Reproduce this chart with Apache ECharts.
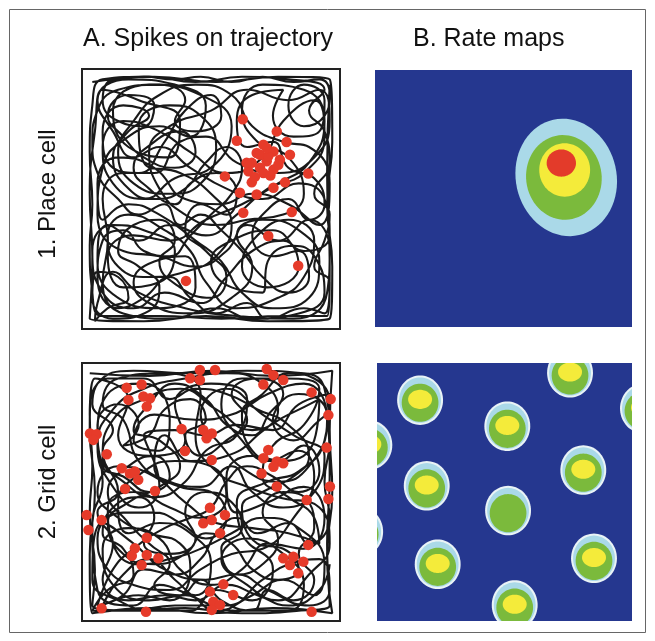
<!DOCTYPE html>
<html><head><meta charset="utf-8">
<script src="https://cdn.jsdelivr.net/npm/echarts@6/dist/echarts.min.js"></script>
<style>html,body{margin:0;padding:0;background:#fff}#c{width:655px;height:641px}</style>
</head><body><div id="c"></div>
<script>
const columnTitles = ['A. Spikes on trajectory', 'B. Rate maps'];
const rowLabels = ['1. Place cell', '2. Grid cell'];

// arena coordinates 0..100, y measured from the top wall
const placeTrajectory = [
[4,5],[28,3],[52,5],[76,3],[96,4],[97,28],[95,52],[97,76],[96,96],[72,97],[48,95],[24,97],[3,96],[4,72],[3,48],[5,24],[8,8],
[22,12],[38,20],[34,34],[18,30],[12,16],[26,6],[46,10],[58,22],[50,38],[36,42],[24,50],[12,44],[8,30],[16,20],[30,24],[42,32],[56,40],[70,34],[78,20],[90,12],[94,26],[86,40],[72,46],[60,56],[48,64],[34,60],[22,66],[10,60],[6,74],[14,88],[30,92],[44,84],[40,72],[28,74],[20,82],[26,90],[42,94],[58,88],[66,76],[60,64],[70,58],[84,62],[92,74],[88,88],[74,92],[62,86],[54,74],[44,66],[30,56],[18,52],[8,58],[6,44],[14,34],[28,38],[40,50],[54,52],[66,48],[80,52],[92,60],[96,44],[88,30],[78,28],[66,22],[58,10],[44,6],[30,10],[20,20],[14,32],[20,44],[34,48],[46,44],[52,30],[46,18],[34,14],[22,22],[24,36],[38,40],[50,48],[58,60],[52,72],[40,78],[26,80],[14,76],[10,64],[18,56],[32,62],[42,70],[48,82],[60,92],[76,88],[86,80],[90,66],[80,58],[68,64],[62,76],[72,84],[84,76],[78,66],[66,70],[56,80],[46,90],[32,86],[20,92],[8,86],[4,70],[12,60],[24,62],[36,70],[30,82],[16,84],[10,72],[20,64],[34,66],[48,58],[62,52],[76,44],[88,36],[94,20],[86,8],[70,6],[62,16],[68,28],[80,34],[86,48],[78,56],[64,58],[52,60],[40,56],[30,46],[26,32],[34,22],[50,16],[64,8],[80,12],[92,8],[96,20],[90,34],[76,40],[60,36],[48,26],[38,28],[28,40],[16,40],[8,50],[10,66],[8,82],[16,94],[34,96],[52,92],[66,96],[84,94],[94,86],[90,72],[82,68],[72,74],[70,86],[58,84],[50,74],[58,66],[74,62],[86,70],[96,64],[94,50],[84,44],[70,50],[56,46],[42,38],[30,30],[20,34],[12,24],[6,12],[18,4],[36,6],[48,14],[42,26],[30,22],[18,26],[8,38],[6,56],[16,70],[30,72],[44,76],[56,70],[64,60],[76,66],[88,58],[96,70],[95,86],[82,96],[60,95],[40,92],[22,86],[12,78],[6,90],[5,97],
[10,92],[18,88],[14,80],[6,78],[4,88],[12,96],[26,93],[30,84],[22,76],[14,70],[20,60],[30,58],[36,66],[30,74],[38,84],[50,88],[56,80],[48,70],[40,62],[46,52],[56,56],[60,48],[52,40],[42,44],[36,52],[26,46],[20,38],[28,28],[38,24],[44,32],[36,38],[24,34],[16,26],[10,18],[18,10],[28,14],[24,22],[14,20],[8,12],[12,4],[24,3],[36,4],[46,3],[58,5],[70,3],[82,5],[92,4],[96,10],[94,18],[86,22],[80,14],[86,6],[94,12],[92,24],[82,26],[74,18],[78,8],[66,10],[60,20],[64,30],[74,28],[80,38],[90,42],[94,52],[88,58],[80,50],[72,54],[66,64],[74,72],[84,70],[88,80],[80,86],[70,80],[62,70],[54,62],[46,56],[38,60],[32,52],[22,56],[14,50],[6,40],[4,28],[6,16],[14,8],[30,6],[40,12],[36,20],[44,24],[54,18],[50,10],[40,16],[32,28],[22,40],[12,38],[8,24],[16,14],[26,18],[18,24],[12,34],[18,46],[28,50],[40,46],[48,36],[56,30],[62,38],[58,48],[50,56],[42,64],[34,72],[24,70],[16,62],[8,66],[6,80],[14,92],[24,88],[34,80],[42,88],[52,94],[64,90],[72,96],[86,92],[94,94],[96,82],[90,76],[94,66],[96,56],[90,48],[96,36],[94,24],[88,16],[94,8],[80,4],[62,3],[44,5],[26,3],[8,4],[4,14],[3,32],[4,52],[3,68],[4,86],[8,95],[30,95],[54,96],[78,95],[95,95],[96,74],[95,40],[96,6]
];
const placeSpikes = [
[62.3,19.3],[75.5,24.0],[60.0,27.6],[79.3,28.1],[70.3,29.1],[67.7,32.3],[74.2,31.7],[80.6,33.0],[65.8,36.1],[71.6,35.5],[76.7,34.9],[69.0,38.0],[64.5,39.3],[74.2,38.7],[87.7,40.2],[55.4,41.3],[65.8,43.6],[74.2,45.7],[78.7,43.6],[61.2,47.6],[67.7,48.3],[62.5,55.3],[81.3,55.0],[72.2,64.2],[83.8,75.7],[40.3,81.5],[69.0,33.0],[72.2,33.6],[76.1,36.8],[70.3,40.0],[63.8,36.1],[71.6,30.4],[67.0,41.5],[73.0,41.0]
];
const gridTrajectory = [
[3,4],[26,5],[50,3],[74,5],[97,3],[96,26],[97,50],[95,74],[97,97],[74,95],[50,97],[26,95],[4,97],[3,74],[5,50],[3,26],[5,6],
[18,14],[14,28],[26,36],[40,30],[36,16],[50,8],[64,14],[60,28],[48,34],[40,46],[28,52],[16,46],[8,36],[12,22],[24,14],[38,10],[52,18],[66,26],[80,20],[92,14],[90,30],[78,38],[66,36],[56,44],[60,58],[72,54],[86,48],[94,60],[86,72],[72,70],[62,80],[50,86],[38,80],[30,68],[18,64],[8,72],[12,86],[26,92],[40,90],[52,96],[66,90],[78,84],[90,90],[94,78],[84,64],[70,60],[58,66],[46,72],[34,76],[22,78],[12,70],[10,56],[20,50],[34,56],[46,60],[56,52],[50,40],[36,38],[24,42],[14,54],[18,66],[30,62],[42,66],[50,78],[44,90],[30,86],[20,94],[6,88],[4,62],[8,46],[6,30],[10,12],[24,8],[34,22],[30,34],[20,30],[28,20],[44,22],[58,20],[72,12],[86,8],[95,22],[88,40],[76,46],[64,42],[54,32],[46,20],[56,10],[70,20],[82,28],[94,36],[90,50],[78,56],[66,50],[58,40],[46,48],[34,46],[22,38],[16,22],[8,16],[14,6],[32,4],[46,12],[44,28],[52,42],[64,48],[76,52],[92,56],[96,70],[88,82],[76,92],[64,86],[54,76],[64,68],[78,74],[86,86],[80,96],[62,96],[46,92],[36,84],[26,76],[16,82],[8,94],[22,90],[34,92],[42,80],[38,70],[26,66],[14,60],[6,50],[14,40],[28,44],[40,54],[52,62],[66,64],[80,66],[92,70],[90,60],[80,52],[70,44],[74,32],[86,24],[92,10],[78,6],[62,6],[54,16],[62,30],[72,38],[84,34],[90,44],[82,60],[70,72],[58,74],[46,80],[34,88],[20,86],[10,80],[6,68],[16,58],[28,58],[38,62],[48,68],[56,60],[50,50],[38,48],[28,40],[32,28],[42,38],[56,36],[68,28],[76,18],[70,8],[56,4],[40,6],[24,10],[12,18],[6,32],[12,48],[22,56],[30,48],[24,28],[36,26],[48,28],[60,24],[74,26],[84,16],[96,12],[94,30],[84,42],[72,46],[60,54],[62,66],[74,80],[66,92],[52,88],[42,96],[28,96],[14,92],[4,84],[8,62],[20,70],[32,80],[48,84],[60,82],[72,88],[88,94],[96,88],[92,76],[80,78],[70,84],[56,94],[36,94],[18,96],[4,96],
[10,88],[20,82],[16,72],[8,66],[12,56],[22,52],[28,60],[24,70],[34,74],[44,68],[40,58],[48,50],[58,54],[62,64],[54,72],[60,82],[70,78],[76,68],[70,58],[78,50],[88,54],[90,64],[84,74],[90,84],[82,92],[72,88],[66,96],[54,92],[46,84],[38,90],[28,86],[34,78],[26,70],[18,62],[10,50],[18,40],[28,36],[34,44],[26,50],[16,44],[8,40],[6,24],[14,16],[22,24],[16,32],[26,28],[32,18],[42,14],[48,22],[40,28],[46,36],[56,30],[64,22],[58,12],[68,6],[78,12],[74,22],[82,30],[90,24],[96,16],[90,6],[80,4],[70,12],[62,20],[66,34],[76,38],[86,32],[92,42],[84,50],[74,44],[64,40],[56,46],[50,56],[42,60],[32,64],[20,72],[12,80],[6,94],[16,90],[24,80],[36,82],[46,76],[52,66],[60,60],[68,66],[80,62],[88,70],[96,60],[94,46],[96,30],[94,10],[86,4],[64,3],[42,4],[20,3],[6,8],[3,20],[4,40],[3,58],[5,80],[4,94],[20,96],[40,95],[62,97],[84,96],[96,94],[95,70],[96,44],[95,20],[84,12],[74,18],[66,28],[56,24],[48,14],[36,8],[26,16],[20,26],[30,30],[38,40],[30,48],[18,54],[10,62],[16,74],[28,78],[40,74],[48,66],[58,70],[66,80],[76,84],[84,80],[78,72],[68,70],[62,56],[70,50],[82,44],[88,36],[80,24],[68,18],[56,12],[44,10],[34,14],[24,6],[10,6],[4,16],[12,26],[8,34],[14,50],[6,58],[12,70],[8,84],[18,92],[32,90],[44,92],[56,86],[68,90],[80,94],[92,88],[96,78]
];
const gridSpikes = [
[45.7,2.7],[51.6,2.7],[41.9,5.9],[45.7,6.6],[71.6,2.3],[74.2,4.7],[78.0,6.6],[70.3,8.3],[17.3,9.6],[23.1,8.3],[18.0,14.3],[23.8,13.0],[26.4,13.7],[25.1,16.9],[89.0,11.4],[96.4,14.0],[95.5,20.2],[3.1,27.3],[5.7,27.6],[4.4,29.8],[38.6,25.6],[47.0,26.0],[50.3,27.3],[48.3,29.2],[39.9,34.1],[50.3,37.6],[9.6,35.4],[72.2,33.7],[70.3,36.9],[75.5,38.2],[78.0,38.9],[74.2,40.2],[69.6,42.8],[94.8,32.8],[15.4,40.8],[18.6,42.8],[20.5,42.1],[21.8,45.3],[16.7,48.8],[28.3,49.6],[75.5,47.9],[96.1,47.9],[95.5,52.7],[87.1,53.1],[1.8,58.9],[7.6,60.9],[2.5,64.7],[49.6,56.1],[55.4,58.9],[47.0,62.1],[50.3,60.9],[53.5,66.0],[25.1,67.7],[20.5,71.8],[19.3,74.7],[25.1,74.4],[29.6,75.7],[23.1,78.3],[87.7,70.5],[78.0,75.7],[81.9,75.1],[85.8,77.0],[80.6,78.3],[83.8,81.5],[54.8,85.8],[49.6,88.6],[58.6,89.9],[50.9,92.5],[53.5,93.8],[50.3,95.7],[7.6,95.1],[24.8,96.4],[89.0,96.4]
];

// place-cell rate map contours: [cx, cy, rx, ry, level, tilt]
const placeRateContours = [
[74.4,41.8,19.6,23.0,1,-0.22],
[73.5,41.8,14.7,16.5,2,-0.12],
[73.8,38.9,9.9,10.4,3,0],
[72.5,36.2,5.7,5.3,4,0]
];
// grid-cell firing fields: [cx, cy, peak level]
const gridFieldCenters = [
[16.9,14.4,3],[51.1,24.5,3],[75.7,3.8,3],[104.3,17.6,3],[-3.0,31.8,4],[19.5,47.6,3],
[80.9,41.5,3],[51.4,57.2,2],[-6.6,65.4,3],[23.8,78.0,3],[85.1,75.7,3],[54.0,93.8,3]
];
// contour layer of a field: [level, rx, ry, dy]
const fieldLayers = [
[0,9.0,9.6,0],[1,8.2,8.8,0],[2,7.2,7.4,1.0],[3,4.7,3.7,-0.3],[4,2.8,2.6,0]
];
const levelColors = ['#e9f3f6','#aad9e8','#7bba3c','#f4eb3a','#e33b2a'];
const navy = '#25378f';

const gridContours = [];
gridFieldCenters.forEach(f => {
  fieldLayers.forEach(l => {
    if (l[0] <= f[2]) gridContours.push([f[0], f[1] + l[3], l[1], l[2], l[0], 0]);
  });
});

function renderEllipse(params, api) {
  const c = api.coord([api.value(0), api.value(1)]);
  const s = api.size([api.value(2), api.value(3)]);
  const rx = Math.abs(s[0]), ry = Math.abs(s[1]);
  const rot = api.value(5) || 0;
  const pts = [];
  const n = 72;
  for (let i = 0; i < n; i++) {
    const t = i / n * 2 * Math.PI;
    const x = rx * Math.cos(t), y = ry * Math.sin(t);
    pts.push([c[0] + x * Math.cos(rot) - y * Math.sin(rot), c[1] + x * Math.sin(rot) + y * Math.cos(rot)]);
  }
  return { type: 'polygon', shape: { points: pts }, style: { fill: levelColors[api.value(4)] } };
}

const font = 'Liberation Sans, Arial, sans-serif';
const textColor = '#111';
const hiddenAxis = (gi, extra) => Object.assign({
  gridIndex: gi, type: 'value', min: 0, max: 100,
  axisLine: { show: false }, axisTick: { show: false }, axisLabel: { show: false }, splitLine: { show: false }
}, extra || {});

const chart = echarts.init(document.getElementById('c'), null, { renderer: 'canvas' });
chart.setOption({
  animation: false,
  backgroundColor: '#fff',
  title: [
    { text: columnTitles[0], left: 83, top: 27, padding: 0, textStyle: { fontFamily: font, fontSize: 25, fontWeight: 'normal', color: textColor } },
    { text: columnTitles[1], left: 413, top: 27, padding: 0, textStyle: { fontFamily: font, fontSize: 25, fontWeight: 'normal', color: textColor } }
  ],
  graphic: [
    { type: 'rect', shape: { x: 9.5, y: 9.5, width: 636, height: 623 }, style: { fill: 'none', stroke: '#666', lineWidth: 1 }, silent: true },
    { type: 'text', x: 48, y: 194, rotation: Math.PI / 2, silent: true,
      style: { text: rowLabels[0], font: '24px ' + font, fill: textColor, align: 'center', verticalAlign: 'middle' } },
    { type: 'text', x: 48, y: 482, rotation: Math.PI / 2, silent: true,
      style: { text: rowLabels[1], font: '24px ' + font, fill: textColor, align: 'center', verticalAlign: 'middle' } }
  ],
  grid: [
    { left: 82, top: 69, width: 258, height: 260, show: true, backgroundColor: '#fff', borderColor: '#222', borderWidth: 2 },
    { left: 375, top: 70, width: 257, height: 257, show: true, backgroundColor: navy, borderWidth: 0 },
    { left: 82, top: 363, width: 258, height: 258, show: true, backgroundColor: '#fff', borderColor: '#222', borderWidth: 2 },
    { left: 377, top: 363, width: 255, height: 258, show: true, backgroundColor: navy, borderWidth: 0 }
  ],
  xAxis: [hiddenAxis(0), hiddenAxis(1), hiddenAxis(2), hiddenAxis(3)],
  yAxis: [hiddenAxis(0, { inverse: true }), hiddenAxis(1, { inverse: true }), hiddenAxis(2, { inverse: true }), hiddenAxis(3, { inverse: true })],
  series: [
    { type: 'line', xAxisIndex: 0, yAxisIndex: 0, data: placeTrajectory, showSymbol: false, smooth: 0.5, clip: true,
      lineStyle: { color: '#050505', width: 2.1, opacity: 0.92 }, z: 2 },
    { type: 'scatter', xAxisIndex: 0, yAxisIndex: 0, data: placeSpikes, symbolSize: 10.5,
      itemStyle: { color: '#e63b2a', opacity: 1 }, z: 3 },
    { type: 'custom', xAxisIndex: 1, yAxisIndex: 1, data: placeRateContours, renderItem: renderEllipse, clip: true, z: 2 },
    { type: 'line', xAxisIndex: 2, yAxisIndex: 2, data: gridTrajectory, showSymbol: false, smooth: 0.5, clip: true,
      lineStyle: { color: '#050505', width: 2.1, opacity: 0.92 }, z: 2 },
    { type: 'scatter', xAxisIndex: 2, yAxisIndex: 2, data: gridSpikes, symbolSize: 10.5,
      itemStyle: { color: '#e63b2a', opacity: 1 }, z: 3 },
    { type: 'custom', xAxisIndex: 3, yAxisIndex: 3, data: gridContours, renderItem: renderEllipse, clip: true, z: 2 }
  ]
});
</script>
</body></html>
